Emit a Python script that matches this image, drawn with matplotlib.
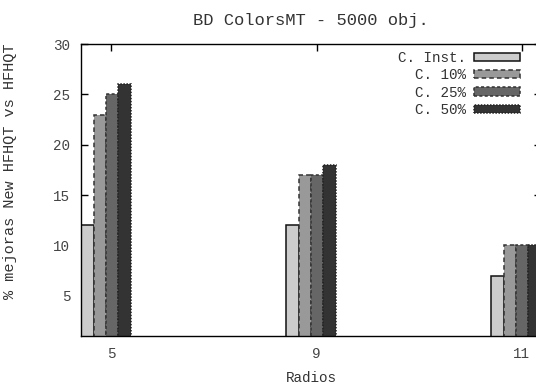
import numpy as np
import matplotlib.pyplot as plt

radios = ['5', '9', '11']
series = ['C. Inst.', 'C. 10%', 'C. 25%', 'C. 50%']
c_inst = [12, 12, 7]
c_10 = [23, 17, 10]
c_25 = [25, 17, 10]
c_50 = [26, 18, 10]

values = [c_inst, c_10, c_25, c_50]
fills = ['#cccccc', '#999999', '#666666', '#333333']
edges = ['#111111', '#333333', '#333333', '#222222']
styles = ['-', (0, (3, 2)), (0, (2, 1.5)), (0, (1, 1))]

plt.rcParams['font.family'] = ['Liberation Mono', 'DejaVu Sans Mono']
plt.rcParams['font.size'] = 10.3

fig = plt.figure(figsize=(5.36, 3.89), dpi=100)
ax = fig.add_axes([0.1517, 0.1362, 0.857, 0.7506])

x = np.arange(len(radios))
w = 0.06
shift = -0.027  # clusters sit a bit left of the tic

for j in range(len(series)):
    ax.bar(x + shift + (j - 1.5) * w, values[j], width=w, bottom=0,
           color=fills[j], edgecolor=edges[j], linewidth=1.1,
           linestyle=styles[j], label=series[j], zorder=2)

ax.set_xlim(x[0] + shift - 2 * w, x[-1] + shift + 2 * w)
ax.set_ylim(1, 30)
ax.set_xticks(x)
ax.set_xticklabels(radios)
ax.set_yticks([5, 10, 15, 20, 25, 30])

ax.tick_params(direction='in', length=5, width=1, top=True, right=True,
               colors='black', labelcolor='#444444', pad=8)
for s in ax.spines.values():
    s.set_linewidth(1)
    s.set_zorder(3)

ax.set_title('BD ColorsMT - 5000 obj.', pad=14, color='#333333')
ax.set_xlabel('Radios', color='#333333', labelpad=7)
ax.set_ylabel('% mejoras New HFHQT vs HFHQT', color='#333333', fontsize=11)
ax.yaxis.set_label_coords(-0.14, 0.565)

leg = ax.legend(loc='upper right', bbox_to_anchor=(0.9547, 0.975),
                frameon=False, markerfirst=False, borderpad=0,
                borderaxespad=0, handlelength=3.2, handleheight=0.5,
                handletextpad=0.55, labelspacing=0.22)
for t in leg.get_texts():
    t.set_color('#333333')

fig.savefig('out.png', dpi=100)
